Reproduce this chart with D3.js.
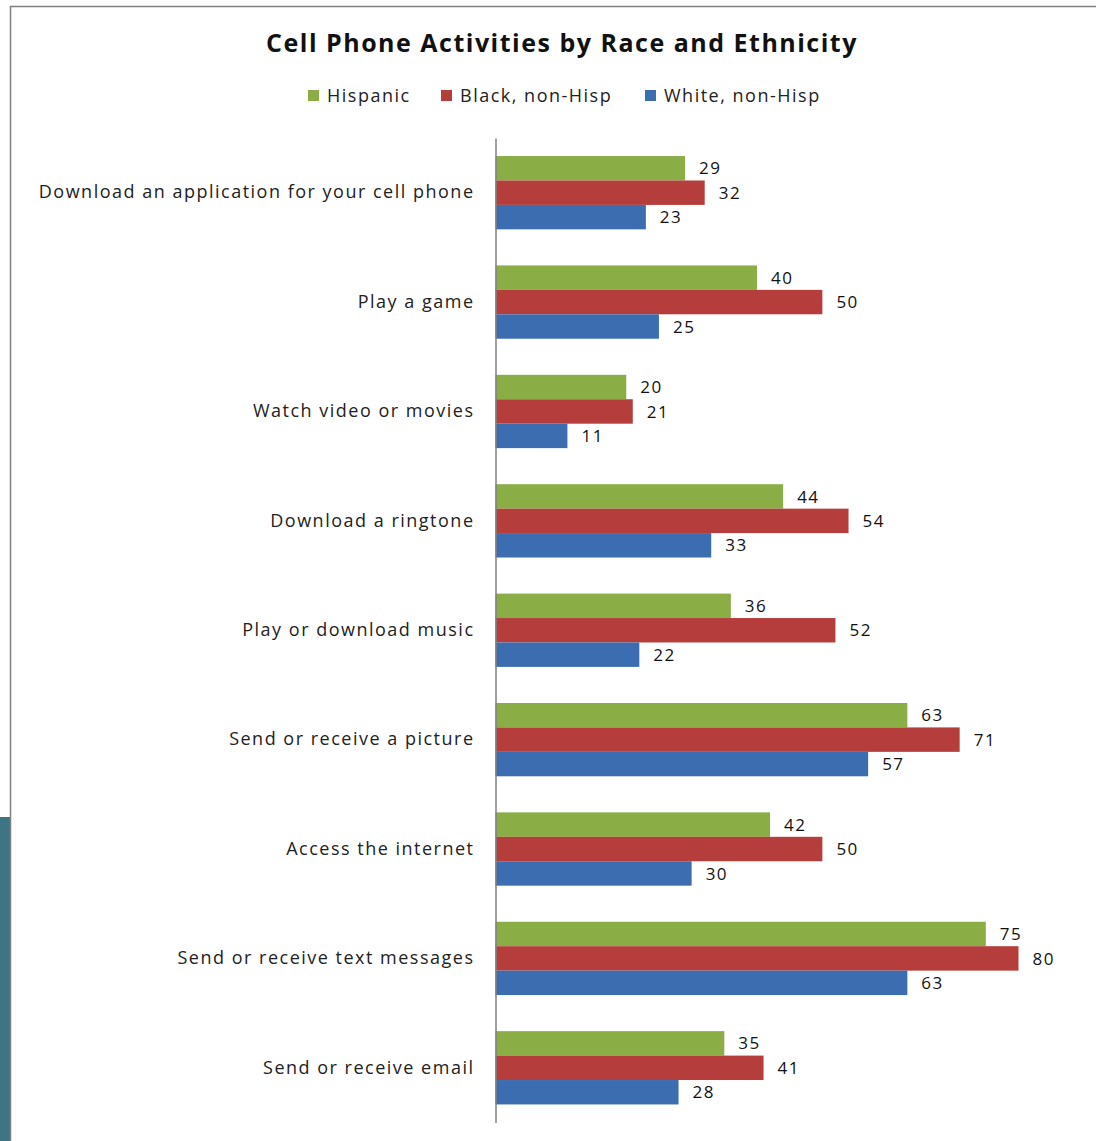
<!DOCTYPE html>
<html><head><meta charset="utf-8">
<script src="https://cdn.jsdelivr.net/npm/d3@7"></script>
<style>body{margin:0;background:#fff;} svg{display:block;font-family:"Open Sans",sans-serif;}</style>
</head><body>
<script>
const categories = ["Download an application for your cell phone","Play a game","Watch video or movies","Download a ringtone","Play or download music","Send or receive a picture","Access the internet","Send or receive text messages","Send or receive email"];
const seriesNames = ["Hispanic","Black, non-Hisp","White, non-Hisp"];
const hispanic = [29,40,20,44,36,63,42,75,35];
const black = [32,50,21,54,52,71,50,80,41];
const white = [23,25,11,33,22,57,30,63,28];
const colors = ["#8AAD46","#B53E3C","#3C6DB0"];

const W = 1096, H = 1141;
const LS = 1.5;
const svg = d3.select("body").append("svg").attr("width", W).attr("height", H);
svg.append("rect").attr("width", W).attr("height", H).attr("fill", "#fff");

// left decoration
svg.append("rect").attr("x",0).attr("y",817).attr("width",10).attr("height",H-817).attr("fill","#3E7585");
// frame
svg.append("line").attr("x1",10.5).attr("x2",10.5).attr("y1",6).attr("y2",H).attr("stroke","#808080").attr("stroke-width",1.5);
svg.append("line").attr("x1",10).attr("x2",W).attr("y1",6.5).attr("y2",6.5).attr("stroke","#808080").attr("stroke-width",1.5);

svg.append("text").attr("x",562).attr("y",52).attr("text-anchor","middle")
  .attr("font-size",25).attr("font-weight","bold").attr("fill","#111").attr("letter-spacing",LS)
  .text("Cell Phone Activities by Race and Ethnicity");

// legend
const legX = [308, 441, 645];
seriesNames.forEach((s,i)=>{
  svg.append("rect").attr("x",legX[i]).attr("y",90).attr("width",11).attr("height",11).attr("fill",colors[i]);
  svg.append("text").attr("x",legX[i]+19).attr("y",102).attr("font-size",18).attr("fill","#222").attr("letter-spacing",LS).text(s);
});

const x0 = 495.5;
const x = d3.scaleLinear().domain([0,80]).range([x0, 1018.5]);
const y = d3.scaleBand().domain(categories).range([138,1122.5]).paddingInner(0.33).paddingOuter(0.165);
const ys = d3.scaleBand().domain(seriesNames).range([0, y.bandwidth()]);
const data = [hispanic, black, white];

const g = svg.append("g");
categories.forEach((c,ci)=>{
  data.forEach((arr,si)=>{
    const yy = y(c)+ys(seriesNames[si]);
    g.append("rect").attr("x",x(0)).attr("y",yy).attr("width",x(arr[ci])-x(0)).attr("height",ys.bandwidth()).attr("fill",colors[si]);
    g.append("text").attr("x",x(arr[ci])+14).attr("y",yy+ys.bandwidth()/2).attr("dy","0.36em")
      .attr("font-size",17).attr("fill","#111").attr("letter-spacing",LS).text(arr[ci]);
  });
});

const axis = d3.axisLeft(y).tickSize(0).tickPadding(21);
const ag = svg.append("g").attr("transform",`translate(${x0},0)`).call(axis);
ag.select(".domain").attr("stroke","#808080").attr("stroke-width",1.5);
ag.selectAll("text").attr("font-size",18).attr("fill","#222").attr("font-family","'Open Sans',sans-serif").attr("letter-spacing",LS);
</script>
</body></html>
